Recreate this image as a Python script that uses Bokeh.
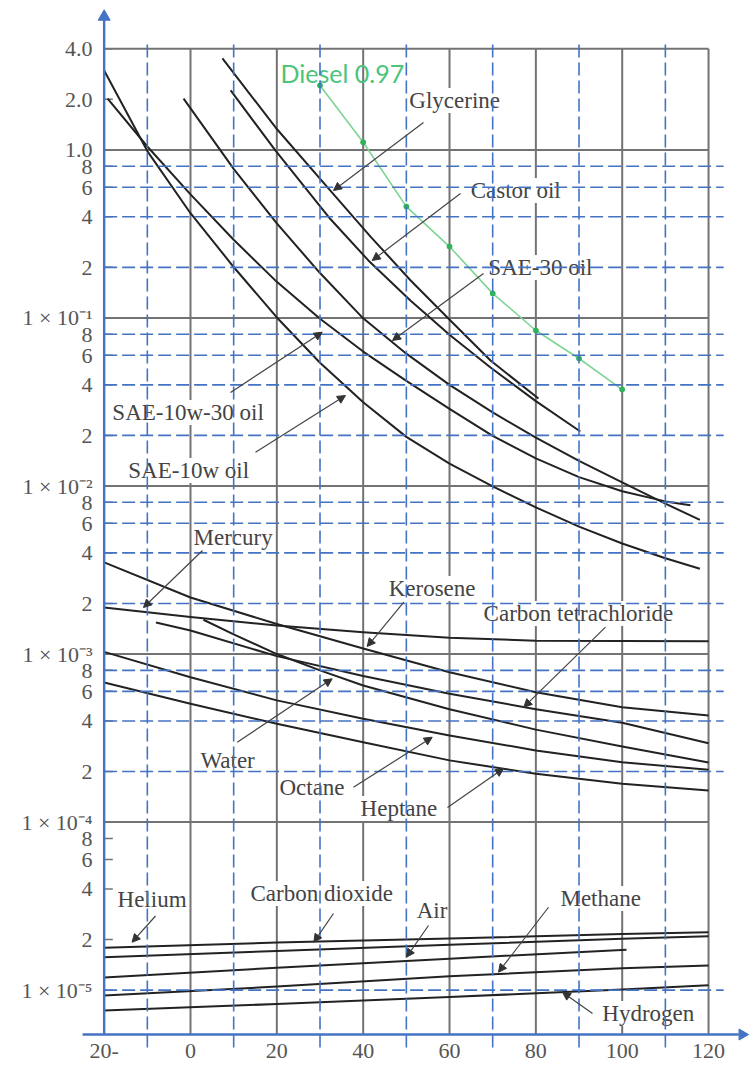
from bokeh.plotting import figure
from bokeh.models import Range1d, FixedTicker, Arrow, NormalHead, ColumnDataSource
from bokeh.embed import file_html
from bokeh.resources import INLINE
from bokeh.core.properties import value

# ---------------- data (temperature in deg C, dynamic viscosity in N*s/m^2) -------------
glycerine_t = [7.4, 19.7, 32.4, 41.7, 51.0, 60.2, 69.5, 80.6]
glycerine_mu = [3.50, 1.36, 0.573, 0.305, 0.167, 0.0966, 0.0558, 0.0332]

castor_t = [9.3, 19.7, 32.4, 41.2, 51.0, 60.2, 69.5, 80.0, 90.3]
castor_mu = [2.26, 0.989, 0.388, 0.220, 0.1266, 0.0786, 0.0507, 0.0320, 0.0211]

sae30_t = [-1.6, 10, 20, 30, 40, 50, 60, 70, 80, 90, 100, 110, 118]
sae30_mu = [2.02, 0.772, 0.365, 0.185, 0.0995, 0.0613, 0.0400, 0.0274, 0.0194, 0.0141, 0.0105, 0.00785, 0.00629]

sae10w30_t = [-19.2, -10, 0, 10, 20, 30, 40, 50, 60, 70, 80, 90, 100, 110, 115.8]
sae10w30_mu = [2.02, 1.048, 0.544, 0.292, 0.164, 0.0989, 0.0631, 0.0422, 0.0288, 0.0199, 0.0146, 0.0113, 0.0093, 0.0081, 0.00768]

sae10w_t = [-20, -10, 0, 10, 20, 30, 40, 50, 60, 70, 80, 90, 100, 110, 118]
sae10w_mu = [2.97, 0.984, 0.420, 0.201, 0.1007, 0.0541, 0.0315, 0.0196, 0.0136, 0.00995, 0.00746, 0.00573, 0.00455, 0.00372, 0.00322]

diesel_t = [30, 40, 50, 60, 70, 80, 90, 100]
diesel_mu = [2.42, 1.11, 0.460, 0.266, 0.140, 0.0842, 0.0574, 0.0375]

mercury_t = [-20, 0, 20, 40, 60, 80, 100, 120]
mercury_mu = [1.89e-3, 1.66e-3, 1.48e-3, 1.35e-3, 1.25e-3, 1.20e-3, 1.196e-3, 1.193e-3]

kerosene_t = [-20, 0, 20, 40, 60, 80, 100, 120]
kerosene_mu = [3.51e-3, 2.17e-3, 1.51e-3, 1.08e-3, 7.80e-4, 5.93e-4, 4.83e-4, 4.31e-4]

ccl4_t = [-8, 0, 20, 40, 60, 80, 100, 120]
ccl4_mu = [1.54e-3, 1.38e-3, 9.72e-4, 7.41e-4, 5.81e-4, 4.70e-4, 3.90e-4, 2.95e-4]

water_t = [3, 10, 20, 30, 40, 60, 80, 100, 120]
water_mu = [1.60e-3, 1.31e-3, 1.0e-3, 8.0e-4, 6.5e-4, 4.7e-4, 3.55e-4, 2.82e-4, 2.26e-4]

octane_t = [-20, 0, 20, 40, 60, 80, 100, 120]
octane_mu = [1.03e-3, 7.28e-4, 5.30e-4, 4.12e-4, 3.28e-4, 2.67e-4, 2.27e-4, 2.05e-4]

heptane_t = [-20, 0, 20, 40, 60, 80, 100, 120]
heptane_mu = [6.77e-4, 5.06e-4, 3.85e-4, 2.99e-4, 2.33e-4, 1.94e-4, 1.69e-4, 1.54e-4]

helium_t = [-20, 20, 60, 100, 120]
helium_mu = [1.79e-5, 1.92e-5, 2.03e-5, 2.16e-5, 2.21e-5]

co2_t = [-20, 20, 60, 100, 120]
co2_mu = [1.57e-5, 1.71e-5, 1.86e-5, 2.02e-5, 2.09e-5]

air_t = [-20, 20, 60, 101]
air_mu = [1.19e-5, 1.36e-5, 1.54e-5, 1.74e-5]

methane_t = [-20, 20, 60, 100, 120]
methane_mu = [9.29e-6, 1.05e-5, 1.21e-5, 1.35e-5, 1.40e-5]

hydrogen_t = [-20, 20, 60, 100, 120]
hydrogen_mu = [7.57e-6, 8.27e-6, 9.10e-6, 1.01e-5, 1.07e-5]

x_ticks = [-20, 0, 20, 40, 60, 80, 100, 120]
x_tick_labels = ["20-", "0", "20", "40", "60", "80", "100", "120"]

y_ticks = [4.0, 2.0, 1.0, 0.8, 0.6, 0.4, 0.2, 0.1, 0.08, 0.06, 0.04, 0.02, 0.01,
           0.008, 0.006, 0.004, 0.002, 0.001, 8e-4, 6e-4, 4e-4, 2e-4, 1e-4,
           8e-5, 6e-5, 4e-5, 2e-5, 1e-5]
y_tick_labels = ["4.0", "2.0", "1.0", "8", "6", "4", "2", "1 × 10⁻¹", "8", "6", "4", "2", "1 × 10⁻²",
                 "8", "6", "4", "2", "1 × 10⁻³", "8", "6", "4", "2", "1 × 10⁻⁴",
                 "8", "6", "4", "2", "1 × 10⁻⁵"]

grey_v = [0, 20, 40, 60, 80, 100, 120]
grey_h = [4.0, 1.0, 0.1, 0.01, 1e-3, 1e-4]
blue_v = [-10, 10, 30, 50, 70, 90, 110]
blue_h = [0.8, 0.6, 0.4, 0.2, 0.08, 0.06, 0.04, 0.02, 0.008, 0.006, 0.004, 0.002,
          8e-4, 6e-4, 4e-4, 2e-4, 1e-5]

labels = ["Glycerine", "Castor oil", "SAE-30 oil", "SAE-10w-30 oil", "SAE-10w oil", "Mercury",
          "Kerosene", "Carbon tetrachloride", "Water", "Octane", "Heptane", "Helium",
          "Carbon dioxide", "Air", "Methane", "Hydrogen"]
label_t = [50.7, 64.9, 69.0, -18.1, -14.4, 0.7, 45.9, 67.9, 2.3, 20.6, 39.4, -16.9, 13.9, 52.4, 85.7, 95.4]
label_mu = [1.967, 0.5735, 0.1996, 0.02738, 0.01237, 4.94e-3, 2.455e-3, 1.742e-3, 2.326e-4,
            1.606e-4, 1.205e-4, 3.462e-5, 3.759e-5, 2.978e-5, 3.51e-5, 7.258e-6]

# arrows: (t_start, mu_start, t_end, mu_end)
arrows = [
    (53.97, 1.456, 33.12, 0.5735),
    (62.54, 0.5503, 42.09, 0.2197),
    (67.87, 0.1838, 46.79, 0.0734),
    (9.27, 0.036, 30.51, 0.0823),
    (15.06, 0.01589, 35.9, 0.03455),
    (2.78, 4.13e-3, -10.89, 1.892e-3),
    (49.41, 2.034e-3, 40.93, 1.109e-3),
    (96.13, 1.445e-3, 77.21, 4.83e-4),
    (10.82, 2.988e-4, 32.82, 7.123e-4),
    (37.76, 1.613e-4, 55.99, 3.2e-4),
    (59.53, 1.222e-4, 72.5, 2.084e-4),
    (-8.11, 2.762e-5, -13.53, 1.929e-5),
    (33.12, 2.859e-5, 28.58, 1.929e-5),
    (55.13, 2.426e-5, 50.03, 1.571e-5),
    (82.93, 3.114e-5, 71.35, 1.279e-5),
    (93.12, 7.258e-6, 86.17, 9.72e-6),
]

# ---------------- figure ----------------
X0, X1 = -25.48, 129.72
Y0, Y1 = 4.496e-6, 7.135
AX_Y = 5.445e-6      # level of drawn x axis
GRID_TOP = 4.0
BLUE = "#4472C4"
GREY = "#737373"
SERIF = "Liberation Serif"

p = figure(width=750, height=1069, x_range=Range1d(X0, X1), y_range=Range1d(Y0, Y1),
           y_axis_type="log", output_backend="svg", toolbar_location=None,
           min_border_left=80, min_border_right=0, min_border_top=6, min_border_bottom=21)
p.outline_line_color = None
p.grid.visible = False

xa = p.xaxis[0]
xa.ticker = FixedTicker(ticks=x_ticks)
xa.major_label_overrides = {t: s for t, s in zip(x_ticks, x_tick_labels)}
xa.axis_line_color = None
xa.major_tick_line_color = None
xa.minor_tick_line_color = None
xa.major_tick_out = 0
xa.major_tick_in = 0
xa.major_label_standoff = -5
xa.major_label_text_font = SERIF
xa.major_label_text_font_size = "22px"
xa.major_label_text_color = "#555555"

ya = p.yaxis[0]
ya.ticker = FixedTicker(ticks=y_ticks, minor_ticks=[])
ya.major_label_overrides = {t: s for t, s in zip(y_ticks, y_tick_labels)}
ya.axis_line_color = None
ya.major_tick_line_color = None
ya.minor_tick_line_color = None
ya.major_tick_out = 0
ya.major_tick_in = 0
ya.major_label_standoff = -12
ya.major_label_text_font = SERIF
ya.major_label_text_font_size = "22px"
ya.major_label_text_color = "#555555"

# grey grid of the original chart
p.segment(x0=grey_v, y0=[AX_Y] * len(grey_v), x1=grey_v, y1=[GRID_TOP] * len(grey_v),
          line_color=GREY, line_width=2.0)
p.segment(x0=[-20] * len(grey_h), y0=grey_h, x1=[120] * len(grey_h), y1=grey_h,
          line_color=GREY, line_width=2.0)
# small tick marks on the y axis
p.segment(x0=[-20] * len(y_ticks), y0=y_ticks, x1=[-18] * len(y_ticks), y1=y_ticks,
          line_color=GREY, line_width=1.5)

curves = [
    (glycerine_t, glycerine_mu), (castor_t, castor_mu), (sae30_t, sae30_mu),
    (sae10w30_t, sae10w30_mu), (sae10w_t, sae10w_mu), (mercury_t, mercury_mu),
    (kerosene_t, kerosene_mu), (ccl4_t, ccl4_mu), (water_t, water_mu),
    (octane_t, octane_mu), (heptane_t, heptane_mu), (helium_t, helium_mu),
    (co2_t, co2_mu), (air_t, air_mu), (methane_t, methane_mu), (hydrogen_t, hydrogen_mu),
]
for t, mu in curves:
    p.line(t, mu, line_color="#222222", line_width=2.0, line_join="round")

# diesel overlay
p.line(diesel_t, diesel_mu, line_color="#7fd494", line_width=1.6)
p.scatter(diesel_t, diesel_mu, size=5, color="#2fb35a")
p.text(x=[20.85], y=[2.888], text=["Diesel 0.97"], text_font=value("Lato"),
       text_font_size="25px", text_color="#4cc47a", text_baseline="middle", text_align="left")

# curve labels
lab_src = ColumnDataSource(dict(x=label_t, y=label_mu, text=labels))
p.text(x="x", y="y", text="text", source=lab_src, text_font=value(SERIF),
       text_font_size="23px", text_color="#444444", text_baseline="middle", text_align="left",
       background_fill_color="white")

# blue dashed overlay grid
p.segment(x0=blue_v, y0=[4.56e-6] * len(blue_v), x1=blue_v, y1=[4.30] * len(blue_v),
          line_color=BLUE, line_width=1.6, line_dash="13 5")
p.segment(x0=[-20] * len(blue_h), y0=blue_h, x1=[123.5] * len(blue_h), y1=blue_h,
          line_color=BLUE, line_width=1.6, line_dash="13 5")

# blue axes with arrowheads
p.segment(x0=[-20], y0=[AX_Y], x1=[-20], y1=[6.0], line_color=BLUE, line_width=2.4)
p.segment(x0=[-25.0], y0=[AX_Y], x1=[127.0], y1=[AX_Y], line_color=BLUE, line_width=2.4)
p.scatter(x=[-20], y=[6.2], marker="triangle", size=12, color=BLUE)
p.scatter(x=[127.8], y=[AX_Y], marker="triangle", angle=-1.5708, size=11, color=BLUE)

for (xs, ys, xe, ye) in arrows:
    p.add_layout(Arrow(end=NormalHead(size=8, fill_color="#333333", line_color="#333333"),
                       x_start=xs, y_start=ys, x_end=xe, y_end=ye,
                       line_color="#444444", line_width=1.2))

open("out.html", "w").write(file_html(p, INLINE))
